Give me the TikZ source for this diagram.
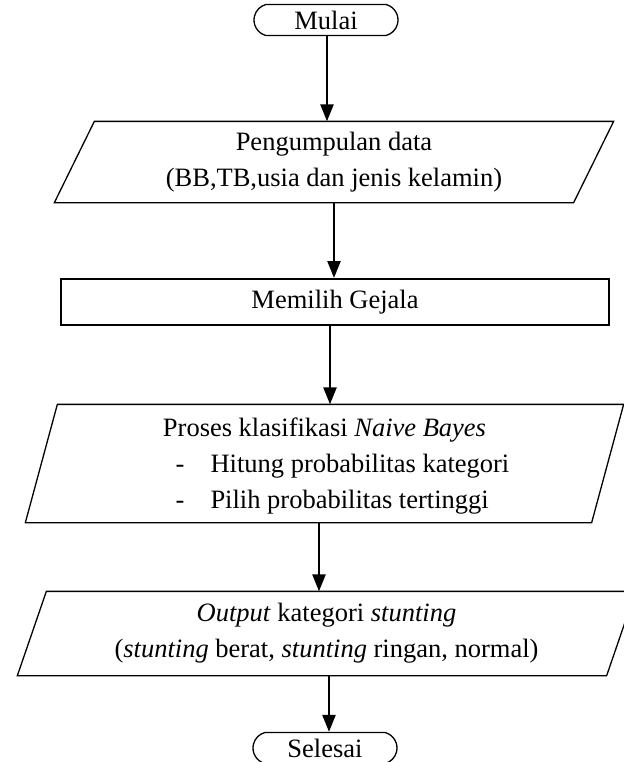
\documentclass[tikz,border=0pt]{standalone}
\usepackage{fontspec}
\setmainfont{Liberation Serif}
\usetikzlibrary{shapes.misc,arrows.meta,calc}

\def\fsize{\fontsize{13.25}{18}\selectfont}

\begin{document}
\begin{tikzpicture}[x=0.5pt,y=-0.5pt,line width=0.65pt,font=\fsize]
    \tikzstyle{terminal}=[rounded rectangle,rounded rectangle arc length=150,draw,minimum width=72pt,minimum height=15.5pt,inner sep=0pt]
    \tikzstyle{io}=[align=center,inner sep=0pt]
    \tikzstyle{process}=[draw,line width=1pt,align=center,inner sep=0pt]
    \tikzstyle{arr}=[-{Triangle[length=8.5pt,width=6.5pt]},line width=1.2pt]

    \useasboundingbox (0,0) rectangle (623,762);

    % Start and end
    \node[terminal] (mulai) at (326,20) {Mulai};
    \node[terminal] (selesai) at (325,748) {Selesai};

    % Input data
    \node[io,minimum width=259pt,minimum height=40pt] (data) at (334,162)
        {Pengumpulan data\\(BB,TB,usia dan jenis kelamin)};
    \draw ($(data.north west)+(20,0)$) -- ($(data.north east)+(20,0)$)
        -- ($(data.south east)-(20,0)$) -- ($(data.south west)-(20,0)$) -- cycle;

    % Choose symptoms
    \node[process,minimum width=274pt,minimum height=23pt] (gejala) at (335,302) {Memilih Gejala};

    % Classification
    \node[io,minimum width=282.5pt,minimum height=58.5pt] (proses) at (324.5,463.5)
        {\rule{0pt}{14.5pt}Proses klasifikasi \textit{Naive Bayes}\\
         \hspace*{18pt}\begin{tabular}[t]{@{}l@{\hspace{13pt}}l@{}}
         -&Hitung probabilitas kategori\\
         -&Pilih probabilitas tertinggi
         \end{tabular}};
    \draw ($(proses.north west)+(16,0)$) -- ($(proses.north east)+(16,0)$)
        -- ($(proses.south east)-(16,0)$) -- ($(proses.south west)-(16,0)$) -- cycle;

    % Output
    \node[io,minimum width=294pt,minimum height=41.5pt] (output) at (326.5,633.5)
        {\textit{Output} kategori \textit{stunting}\\
         (\textit{stunting} berat, \textit{stunting} ringan, normal)};
    \draw ($(output.north west)+(14.5,0)$) -- ($(output.north east)+(14.5,0)$)
        -- ($(output.south east)-(14.5,0)$) -- ($(output.south west)-(14.5,0)$) -- cycle;

    % Connect the steps
    \draw[arr] ([xshift=0.5pt]mulai.south) -- ([xshift=0.5pt]mulai.south |- data.north);
    \draw[arr] (data.south) -- (data.south |- gejala.north);
    \draw[arr] ([xshift=-2.5pt]gejala.south) -- ([xshift=-2.5pt]gejala.south |- proses.north);
    \draw[arr] ([xshift=-2.75pt]proses.south) -- ([xshift=-2.75pt]proses.south |- output.north);
    \draw[arr] ([xshift=1.25pt]output.south) -- ([xshift=1.25pt]output.south |- selesai.north);
\end{tikzpicture}
\end{document}
